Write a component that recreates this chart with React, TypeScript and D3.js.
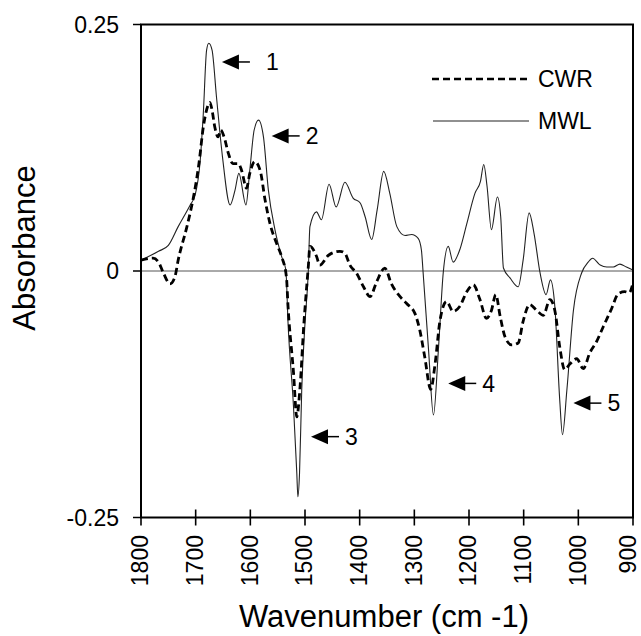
import React from 'react';
import * as d3 from 'd3';

// MWL spectrum (solid line): wavenumber (cm-1) and absorbance
const mwlWave = [1800, 1768, 1750, 1732, 1710, 1701, 1692, 1686, 1680, 1676, 1670, 1662, 1651, 1637, 1628, 1621, 1608, 1601, 1593, 1585, 1576, 1567, 1555, 1543, 1535, 1531, 1521, 1515, 1513, 1510, 1506, 1500, 1494, 1491, 1479, 1470, 1456, 1443, 1427, 1412, 1399, 1390, 1378, 1368, 1356, 1345, 1332, 1317, 1305, 1293, 1287, 1284, 1274, 1265, 1256, 1247, 1238, 1229, 1216, 1204, 1189, 1179, 1173, 1167, 1159, 1148, 1142, 1137, 1125, 1110, 1101, 1090, 1081, 1070, 1059, 1051, 1043, 1034, 1029, 1021, 1009, 994, 982, 974, 960, 948, 936, 924, 912, 900];
const mwlAbs = [0.011, 0.020, 0.026, 0.045, 0.067, 0.077, 0.110, 0.160, 0.224, 0.231, 0.224, 0.177, 0.116, 0.067, 0.082, 0.099, 0.067, 0.102, 0.143, 0.153, 0.136, 0.082, 0.042, 0.015, 0.001, -0.053, -0.138, -0.205, -0.229, -0.205, -0.121, -0.053, -0.001, 0.045, 0.060, 0.052, 0.088, 0.065, 0.090, 0.074, 0.069, 0.055, 0.032, 0.062, 0.101, 0.079, 0.045, 0.036, 0.037, 0.033, 0.021, -0.001, -0.080, -0.146, -0.080, -0.001, 0.025, 0.009, 0.023, 0.048, 0.079, 0.091, 0.108, 0.086, 0.042, 0.075, 0.055, 0.003, -0.007, -0.016, 0.011, 0.059, 0.038, -0.002, -0.024, -0.009, -0.036, -0.131, -0.166, -0.121, -0.040, -0.002, 0.009, 0.013, 0.006, 0.004, 0.004, 0.007, 0.004, 0.001];

// CWR spectrum (dashed line)
const cwrWave = [1800, 1778, 1768, 1759, 1747, 1738, 1732, 1716, 1704, 1694, 1686, 1678, 1674, 1670, 1665, 1659, 1654, 1648, 1640, 1632, 1622, 1616, 1607, 1601, 1592, 1582, 1573, 1564, 1552, 1543, 1534, 1531, 1521, 1515, 1509, 1502, 1494, 1491, 1479, 1473, 1457, 1436, 1427, 1418, 1406, 1393, 1381, 1369, 1354, 1342, 1326, 1314, 1299, 1290, 1281, 1270, 1262, 1253, 1241, 1229, 1217, 1204, 1192, 1180, 1168, 1159, 1151, 1143, 1134, 1122, 1110, 1101, 1089, 1076, 1064, 1052, 1043, 1034, 1025, 1015, 1003, 991, 979, 967, 954, 939, 927, 915, 907, 900];
const cwrAbs = [0.011, 0.013, 0.009, -0.002, -0.013, -0.006, 0.011, 0.045, 0.075, 0.109, 0.146, 0.167, 0.171, 0.163, 0.146, 0.136, 0.143, 0.136, 0.119, 0.109, 0.109, 0.102, 0.084, 0.099, 0.111, 0.102, 0.072, 0.048, 0.028, 0.015, -0.006, -0.036, -0.103, -0.148, -0.117, -0.053, 0.004, 0.025, 0.015, 0.006, 0.016, 0.020, 0.018, 0.006, -0.002, -0.016, -0.026, -0.011, 0.003, -0.013, -0.026, -0.033, -0.043, -0.060, -0.087, -0.120, -0.094, -0.050, -0.031, -0.041, -0.036, -0.021, -0.014, -0.029, -0.048, -0.040, -0.024, -0.046, -0.067, -0.075, -0.073, -0.051, -0.034, -0.040, -0.045, -0.029, -0.040, -0.077, -0.100, -0.094, -0.089, -0.099, -0.083, -0.072, -0.056, -0.038, -0.023, -0.021, -0.022, -0.012];

const xTicks = [1800, 1700, 1600, 1500, 1400, 1300, 1200, 1100, 1000, 900];
const yTicks = [0.25, 0, -0.25];
const yTickLabels = ['0.25', '0', '-0.25'];

// numbered band arrows: tip position in data units
const arrowLabels = ['1', '2', '3', '4', '5'];
const arrowWave = [1652, 1561, 1489, 1238, 1009];
const arrowAbs = [0.212, 0.137, -0.168, -0.114, -0.134];

const W = 641;
const H = 636;
const FONT = '"Liberation Sans", Arial, Helvetica, sans-serif';

export default function App() {
  const x = d3.scaleLinear().domain([1800, 900]).range([141, 633]);
  const y = d3.scaleLinear().domain([-0.25, 0.25]).range([517.5, 24.5]);

  const line = d3
    .line<[number, number]>()
    .x((d) => x(d[0]))
    .y((d) => y(d[1]))
    .curve(d3.curveMonotoneX);

  const mwl = mwlWave.map((w, i) => [w, mwlAbs[i]] as [number, number]);
  const cwr = cwrWave.map((w, i) => [w, cwrAbs[i]] as [number, number]);

  const left = x(1800);
  const right = x(900);
  const top = y(0.25);
  const bottom = y(-0.25);

  return (
    <svg
      width={W}
      height={H}
      style={{ position: 'absolute', left: 0, top: 0, background: '#fff' }}
      fontFamily={FONT}
    >
      <defs>
        <clipPath id="plot">
          <rect x={left} y={top} width={right - left} height={bottom - top} />
        </clipPath>
      </defs>

      {/* zero line */}
      <line x1={left} x2={right} y1={y(0)} y2={y(0)} stroke="#555" strokeWidth={1} />

      <g clipPath="url(#plot)">
        <path d={line(mwl) ?? ''} fill="none" stroke="#222" strokeWidth={1.1} />
        <path
          d={line(cwr) ?? ''}
          fill="none"
          stroke="#000"
          strokeWidth={2.8}
          strokeDasharray="7 4"
        />
      </g>

      {/* frame */}
      <rect x={left} y={top} width={right - left} height={bottom - top} fill="none" stroke="#000" strokeWidth={2} />

      {/* y ticks */}
      {yTicks.map((t, i) => (
        <g key={t}>
          <line x1={left - 8} x2={left} y1={y(t)} y2={y(t)} stroke="#000" strokeWidth={1.5} />
          <text x={119} y={y(t)} dy="0.36em" textAnchor="end" fontSize={23}>
            {yTickLabels[i]}
          </text>
        </g>
      ))}

      {/* x ticks */}
      {xTicks.map((t) => (
        <g key={t}>
          <line x1={x(t)} x2={x(t)} y1={bottom - 8} y2={bottom + 8} stroke="#000" strokeWidth={1.6} />
          <text
            transform={`translate(${Math.min(x(t) - 1, 628)},535) rotate(-90)`}
            dy="0.36em"
            textAnchor="end"
            fontSize={23}
          >
            {t}
          </text>
        </g>
      ))}

      {/* axis titles */}
      <text x={384} y={627} textAnchor="middle" fontSize={31}>
        Wavenumber (cm -1)
      </text>
      <text transform="translate(24,248) rotate(-90)" dy="0.36em" textAnchor="middle" fontSize={31}>
        Absorbance
      </text>

      {/* legend */}
      <line x1={432} x2={530} y1={79} y2={79} stroke="#000" strokeWidth={2.7} strokeDasharray="7 4" />
      <text x={538} y={79} dy="0.36em" fontSize={23}>CWR</text>
      <line x1={433} x2={529} y1={121} y2={121} stroke="#222" strokeWidth={1.1} />
      <text x={538} y={121} dy="0.36em" fontSize={23}>MWL</text>

      {/* band arrows */}
      {arrowLabels.map((lab, i) => {
        const ax = x(arrowWave[i]);
        const ay = y(arrowAbs[i]);
        const off = i === 0 ? 44 : 34;
        return (
          <g key={lab}>
            <polygon points={`${ax},${ay} ${ax + 17},${ay - 7.5} ${ax + 17},${ay + 7.5}`} fill="#000" />
            <line x1={ax + 16} x2={ax + 28} y1={ay} y2={ay} stroke="#000" strokeWidth={1.5} />
            <text x={ax + off} y={ay} dy="0.36em" fontSize={23}>
              {lab}
            </text>
          </g>
        );
      })}
    </svg>
  );
}
